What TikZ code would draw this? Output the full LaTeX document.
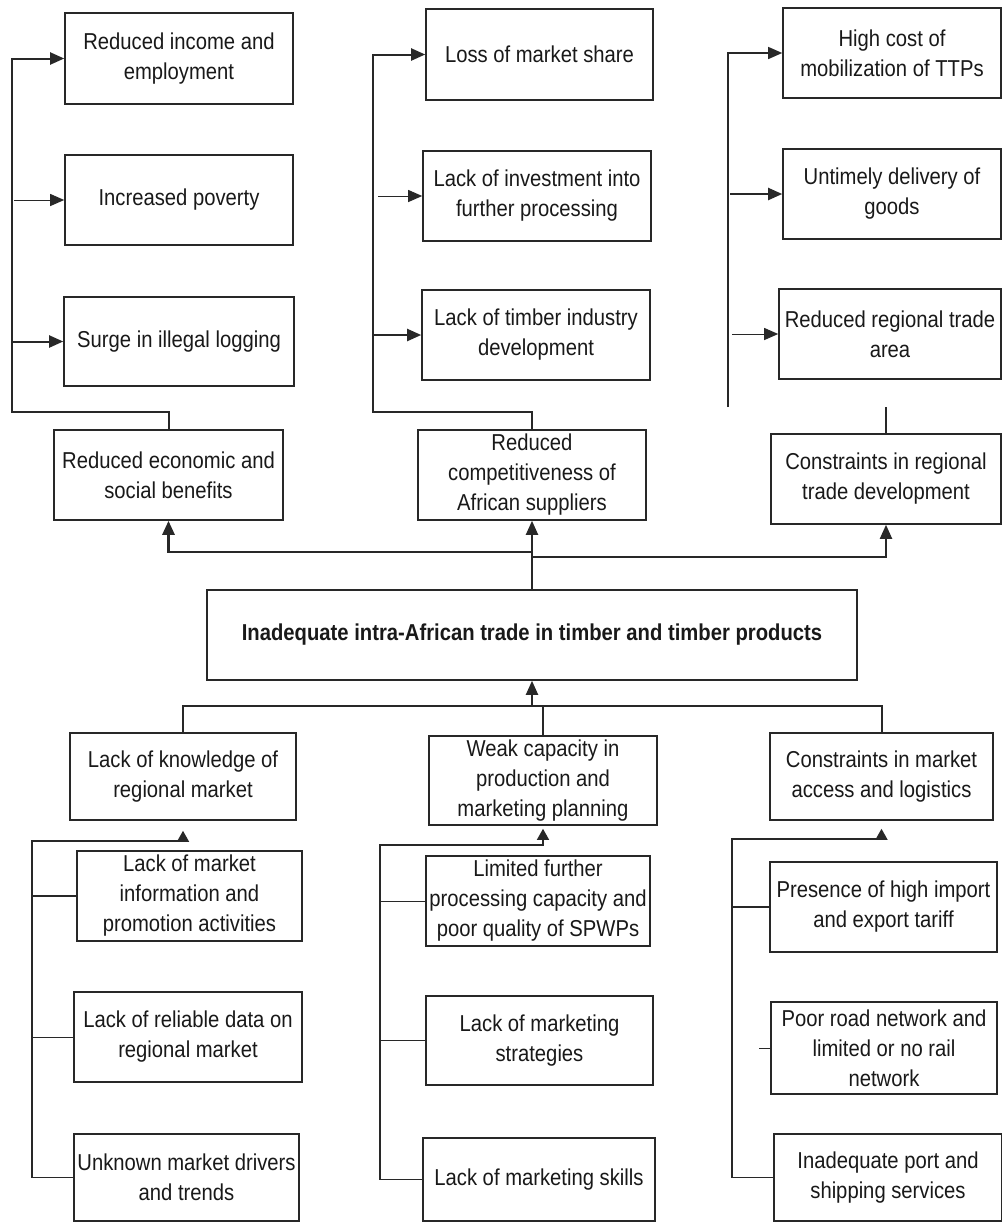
\documentclass[tikz,border=0pt]{standalone}
\usepackage{fontspec}
\usetikzlibrary{arrows.meta}
\newfontfamily\boxfont[FakeStretch=0.88]{Liberation Sans}
\definecolor{ink}{RGB}{40,40,40}
\tikzset{
  bx/.style={draw=ink, line width=0.8pt, align=center, inner sep=1pt, text=black!90,
    font=\boxfont\fontsize{11.5}{15}\selectfont, anchor=center},
  conn/.style={draw=ink, line width=1pt},
  thickconn/.style={draw=ink, line width=1.4pt},
  midconn/.style={draw=ink, line width=0.7pt},
  thinconn/.style={draw=ink, line width=0.5pt},
  tip/.style={-{Triangle[length=7pt,width=6pt]}},
  tipsmall/.style={-{Triangle[length=5.5pt,width=6pt]}},
}
\begin{document}
\begin{tikzpicture}[x=0.5pt,y=-0.5pt]
\useasboundingbox[fill=white] (0,0) rectangle (1002,1222);
% ---- top effects
\node[bx, minimum width=114pt, minimum height=45.5pt] (a1) at (179,58.5) {Reduced income and\\employment};
\node[bx, minimum width=114pt, minimum height=45pt] (a2) at (179,200) {Increased poverty};
\node[bx, minimum width=115pt, minimum height=44.5pt] (a3) at (179,341.5) {Surge in illegal logging};
\node[bx, minimum width=113.5pt, minimum height=45.5pt] (b1) at (539.5,54.5) {Loss of market share};
\node[bx, minimum width=114pt, minimum height=45pt] (b2) at (537,196) {Lack of investment into\\further processing};
\node[bx, minimum width=114pt, minimum height=45pt] (b3) at (536,335) {Lack of timber industry\\development};
\node[bx, minimum width=109pt, minimum height=45pt] (c1) at (892,53) {High cost of\\mobilization of TTPs};
\node[bx, minimum width=109pt, minimum height=45pt] (c2) at (892,194) {Untimely delivery of\\goods};
\node[bx, minimum width=111pt, minimum height=45pt] (c3) at (890,334) {Reduced regional trade\\area};
% ---- main effects
\node[bx, minimum width=114.5pt, minimum height=45pt] (e1) at (168.5,475) {Reduced economic and\\social benefits};
\node[bx, minimum width=114pt, minimum height=45pt] (e2) at (532,475) {Reduced\\competitiveness of\\African suppliers};
\node[bx, minimum width=115pt, minimum height=45pt] (e3) at (886,479) {Constraints in regional\\trade development};
% ---- core problem
\node[bx, minimum width=325pt, minimum height=45pt] (ct) at (532,635) {\bfseries Inadequate intra-African trade in timber and timber products};
% ---- causes
\node[bx, minimum width=113pt, minimum height=43.5pt] (l) at (183,776.5) {Lack of knowledge of\\regional market};
\node[bx, minimum width=112.5pt, minimum height=45pt] (l1) at (189.5,896) {Lack of market\\information and\\promotion activities};
\node[bx, minimum width=114pt, minimum height=45pt] (l2) at (188,1037) {Lack of reliable data on\\regional market};
\node[bx, minimum width=112.5pt, minimum height=43.5pt] (l3) at (186.5,1177.5) {Unknown market drivers\\and trends};
\node[bx, minimum width=114pt, minimum height=44.5pt] (m) at (543,780.5) {Weak capacity in\\production and\\marketing planning};
\node[bx, minimum width=112pt, minimum height=45pt] (m1) at (538,901) {Limited further\\processing capacity and\\poor quality of SPWPs};
\node[bx, minimum width=113.5pt, minimum height=44.5pt] (m2) at (539.5,1040.5) {Lack of marketing\\strategies};
\node[bx, minimum width=116pt, minimum height=41.5pt] (m3) at (539,1179.5) {Lack of marketing skills};
\node[bx, minimum width=111.5pt, minimum height=43.5pt] (r) at (881.5,776.5) {Constraints in market\\access and logistics};
\node[bx, minimum width=113.5pt, minimum height=45pt] (r1) at (883.5,907) {Presence of high import\\and export tariff};
\node[bx, minimum width=113pt, minimum height=46pt] (r2) at (884,1048) {Poor road network and\\limited or no rail\\network};
\node[bx, minimum width=114pt, minimum height=43.5pt] (r3) at (888,1177.5) {Inadequate port and\\shipping services};
% ---- coordinates
\coordinate (sA) at (12,412);
\coordinate (sB) at (373,412);
\coordinate (sC) at (728,407);
\coordinate (jL) at (532,552);
\coordinate (jR) at (532,557);
\coordinate (jB) at (532,706);
\coordinate (sL) at (32,841);
\coordinate (sM) at (380,845);
\coordinate (sR) at (732,839);
% ---- top-left connectors
\draw[conn,tip] (e1.north) |- (sA) |- (a1.west);
\draw[thinconn,tip] ([xshift=-25pt]a2.west) -- (a2.west);
\draw[conn,tip] (sA |- a3.west) -- (a3.west);
% ---- top-middle connectors
\draw[conn,tip] (e2.north) |- (sB) |- (b1.west);
\draw[thinconn,tip] ([xshift=-22pt]b2.west) -- (b2.west);
\draw[conn,tip] (sB |- b3.west) -- (b3.west);
% ---- top-right connectors
\draw[midconn,tip] (sC) |- (c1.west);
\draw[conn,tip] ([xshift=-26pt]c2.west) -- (c2.west);
\draw[thinconn,tip] ([xshift=-23pt]c3.west) -- (c3.west);
\draw[conn] (e3.north) -- ++(0,-26);
% ---- core to effects
\draw[conn,tip] (ct.north) -- (e2.south);
\draw[thickconn,tip] (jL) -| (e1.south);
\draw[conn,tip] (jR) -| (e3.south);
% ---- causes to core
\draw[conn,tip] (jB) -- (ct.south);
\draw[conn] (l.north) |- (jB) -| (r.north);
\draw[conn] (m.north) -- (m.north |- jB);
% ---- lower-left
\draw[midconn,tipsmall,shorten >=5pt] (l3.west) -| (sL) -| (l.south);
\draw[conn] (sL |- l1.west) -- (l1.west);
\draw[thinconn] (sL |- l2.west) -- (l2.west);
% ---- lower-middle
\draw[midconn,tipsmall,shorten >=1.5pt] (m3.west) -| (sM) -| (m.south);
\draw[thinconn] (sM |- m1.west) -- (m1.west);
\draw[thinconn] (sM |- m2.west) -- (m2.west);
% ---- lower-right
\draw[midconn,tipsmall,shorten >=4pt] (r3.west) -| (sR) -| (r.south);
\draw[conn] (sR |- r1.west) -- (r1.west);
\draw[thinconn] ([xshift=-5.5pt]r2.west) -- (r2.west);
\end{tikzpicture}
\end{document}
